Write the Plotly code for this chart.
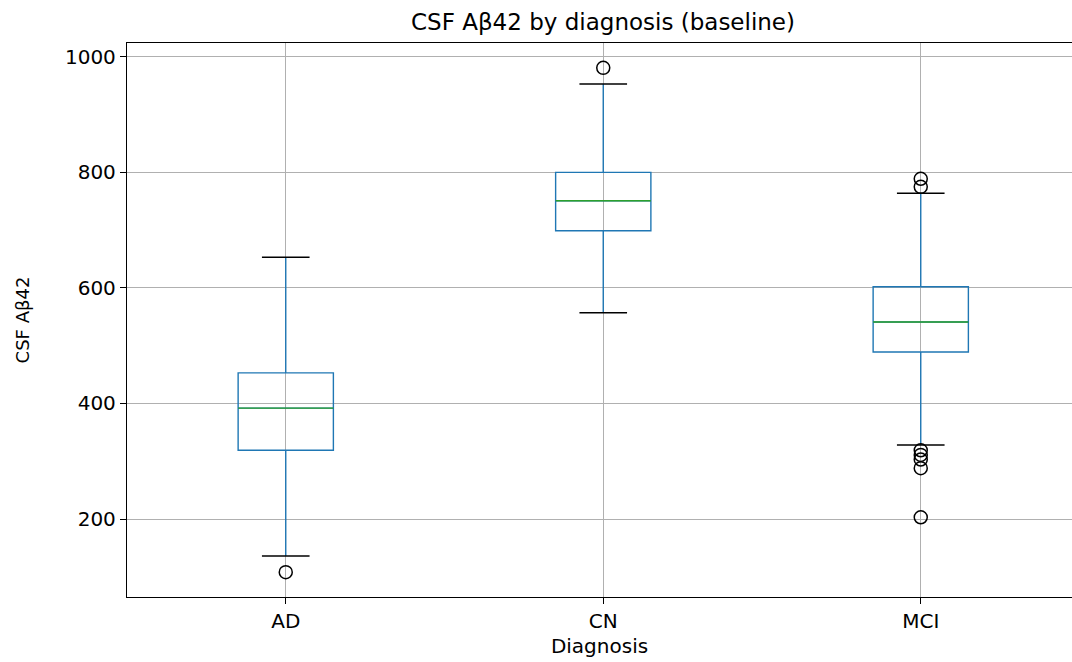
import plotly.graph_objects as go

categories = ["AD", "CN", "MCI"]
q1 = [319, 699, 489]
median = [392, 751, 541]
q3 = [453, 800, 602]
lower_whisker = [136, 557, 328]
upper_whisker = [653, 953, 764]
outlier_cat = ["AD", "CN", "MCI", "MCI", "MCI", "MCI", "MCI", "MCI", "MCI"]
outlier_val = [108, 981, 789, 775, 319, 311, 303, 288, 203]

BOX_W = 0.3
CAP_W = 0.15
pos = {c: i + 1 for i, c in enumerate(categories)}
xs = [pos[c] for c in categories]

fig = go.Figure()
fig.add_trace(go.Box(
    x=xs, q1=q1, median=median, q3=q3,
    lowerfence=lower_whisker, upperfence=upper_whisker,
    width=BOX_W, whiskerwidth=0.0001,
    line=dict(color="#1f77b4", width=1.4),
    fillcolor="rgba(255,255,255,0)",
    boxpoints=False, showlegend=False, hoverinfo="skip",
))

# caps (black) and medians (green)
cap_x, cap_y, med_x, med_y = [], [], [], []
for x, lo, hi, m in zip(xs, lower_whisker, upper_whisker, median):
    for v in (lo, hi):
        cap_x += [x - CAP_W / 2, x + CAP_W / 2, None]
        cap_y += [v, v, None]
    med_x += [x - BOX_W / 2, x + BOX_W / 2, None]
    med_y += [m, m, None]
fig.add_trace(go.Scatter(x=cap_x, y=cap_y, mode="lines",
                         line=dict(color="black", width=1.4), showlegend=False, hoverinfo="skip"))
fig.add_trace(go.Scatter(x=med_x, y=med_y, mode="lines",
                         line=dict(color="#2ca02c", width=1.4), showlegend=False, hoverinfo="skip"))
fig.add_trace(go.Scatter(
    x=[pos[c] for c in outlier_cat], y=outlier_val, mode="markers",
    marker=dict(symbol="circle-open", size=13, color="black", line=dict(width=1.5, color="black")),
    showlegend=False, hoverinfo="skip",
))

font = dict(family="DejaVu Sans", size=20, color="black")
fig.update_layout(
    width=1072, height=662,
    margin=dict(l=127, r=0, t=43, b=65),
    paper_bgcolor="white", plot_bgcolor="white",
    font=font,
    title=dict(text="CSF Aβ42 by diagnosis (baseline)", x=603 / 1072, xanchor="center",
               y=1 - 22 / 662, yanchor="middle", font=dict(family="DejaVu Sans", size=23)),
    xaxis=dict(
        range=[0.5, 0.5 + (1072 - 127) / 317.5],
        tickvals=xs, ticktext=categories,
        showgrid=True, gridcolor="#b0b0b0", gridwidth=1,
        showline=True, linecolor="black", linewidth=1.3, mirror=True,
        ticks="outside", ticklen=6, tickcolor="black",
        zeroline=False,
        title=dict(text="Diagnosis", standoff=6, font=font),
    ),
    yaxis=dict(
        range=[65, 1024],
        tickvals=[200, 400, 600, 800, 1000],
        showgrid=True, gridcolor="#b0b0b0", gridwidth=1,
        showline=True, linecolor="black", linewidth=1.3, mirror=False,
        ticks="outside", ticklen=6, tickcolor="black",
        zeroline=False,
        title=dict(text="CSF Aβ42", standoff=30, font=dict(family="DejaVu Sans", size=18)),
    ),
)

fig.write_html("out.html", config={"displayModeBar": False})
with open("out.html", "r", encoding="utf-8") as f:
    html = f.read()
html = html.replace("<body>", '<body style="margin:0;overflow:hidden">', 1)
with open("out.html", "w", encoding="utf-8") as f:
    f.write(html)
